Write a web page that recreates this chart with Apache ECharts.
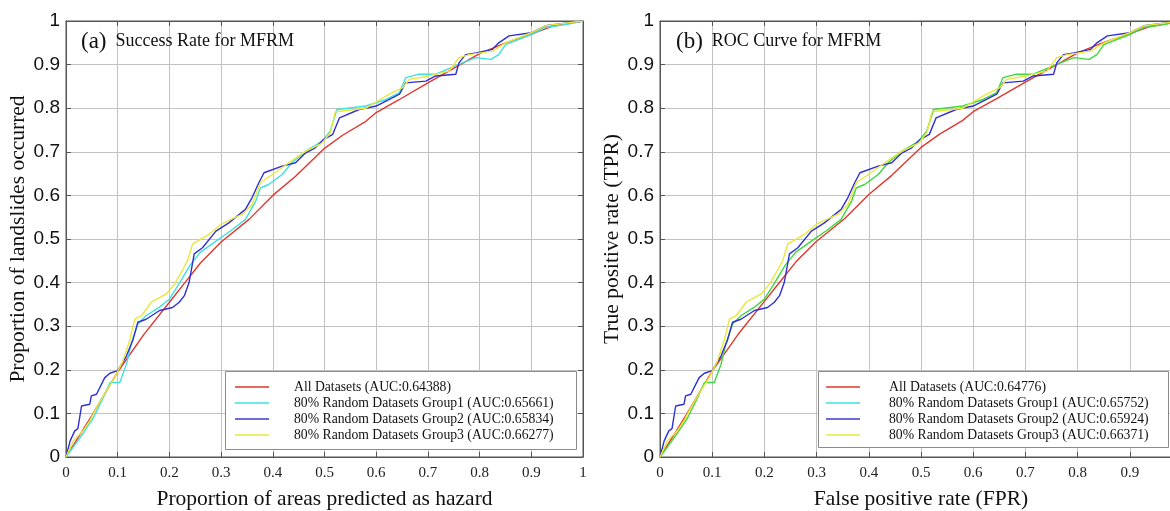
<!DOCTYPE html>
<html><head><meta charset="utf-8">
<script src="https://cdn.jsdelivr.net/npm/echarts@6/dist/echarts.min.js"></script>
<style>html,body{margin:0;padding:0;background:#fff}#c{width:1170px;height:511px}</style>
</head><body><div id="c"></div>
<script>
// ---------- data ----------
const successNames = ['All Datasets (AUC:0.64388)', '80% Random Datasets Group1 (AUC:0.65661)', '80% Random Datasets Group2 (AUC:0.65834)', '80% Random Datasets Group3 (AUC:0.66277)'];
const rocNames = ['All Datasets (AUC:0.64776)', '80% Random Datasets Group1 (AUC:0.65752)', '80% Random Datasets Group2 (AUC:0.65924)', '80% Random Datasets Group3 (AUC:0.66371)'];

const successAll = [[0,0],[0.02,0.038],[0.05,0.095],[0.1,0.195],[0.15,0.28],[0.2,0.355],[0.23,0.4],[0.26,0.445],[0.3,0.493],[0.354,0.545],[0.4,0.6],[0.444,0.644],[0.5,0.708],[0.535,0.738],[0.58,0.77],[0.6,0.79],[0.645,0.82],[0.7,0.858],[0.754,0.894],[0.8,0.925],[0.85,0.95],[0.9,0.97],[0.94,0.988],[1,1]];
const successG1 = [[0,0],[0.027,0.044],[0.053,0.09],[0.072,0.136],[0.085,0.171],[0.104,0.171],[0.117,0.213],[0.126,0.259],[0.139,0.305],[0.155,0.324],[0.18,0.343],[0.2,0.362],[0.22,0.4],[0.24,0.44],[0.26,0.47],[0.29,0.495],[0.32,0.52],[0.347,0.545],[0.367,0.587],[0.376,0.617],[0.392,0.625],[0.418,0.648],[0.437,0.675],[0.463,0.701],[0.495,0.724],[0.511,0.747],[0.524,0.797],[0.58,0.805],[0.619,0.82],[0.645,0.836],[0.657,0.87],[0.683,0.878],[0.715,0.878],[0.767,0.904],[0.793,0.916],[0.822,0.912],[0.837,0.923],[0.85,0.946],[0.9,0.969],[0.927,0.985],[0.966,0.992],[1,1]];
const successG2 = [[0,0],[0.008,0.037],[0.017,0.06],[0.023,0.065],[0.03,0.117],[0.046,0.121],[0.049,0.14],[0.059,0.144],[0.075,0.182],[0.085,0.192],[0.1,0.198],[0.117,0.232],[0.129,0.267],[0.139,0.309],[0.155,0.316],[0.181,0.336],[0.206,0.343],[0.219,0.355],[0.229,0.37],[0.238,0.4],[0.248,0.466],[0.264,0.48],[0.29,0.518],[0.315,0.537],[0.347,0.568],[0.36,0.595],[0.373,0.629],[0.383,0.652],[0.418,0.667],[0.444,0.675],[0.463,0.697],[0.482,0.709],[0.498,0.728],[0.516,0.74],[0.529,0.778],[0.567,0.797],[0.6,0.805],[0.645,0.832],[0.657,0.858],[0.696,0.862],[0.715,0.874],[0.754,0.878],[0.76,0.904],[0.773,0.923],[0.793,0.927],[0.825,0.935],[0.837,0.95],[0.857,0.966],[0.9,0.973],[0.927,0.989],[0.966,0.995],[1,1]];
const successG3 = [[0,0],[0.014,0.037],[0.033,0.06],[0.046,0.083],[0.059,0.113],[0.078,0.152],[0.094,0.182],[0.11,0.22],[0.123,0.267],[0.133,0.316],[0.146,0.324],[0.165,0.355],[0.194,0.374],[0.21,0.397],[0.226,0.43],[0.235,0.45],[0.245,0.489],[0.277,0.511],[0.3,0.534],[0.341,0.557],[0.36,0.579],[0.376,0.629],[0.399,0.648],[0.431,0.675],[0.463,0.701],[0.495,0.72],[0.511,0.743],[0.521,0.792],[0.58,0.8],[0.619,0.828],[0.651,0.847],[0.664,0.866],[0.702,0.874],[0.741,0.885],[0.76,0.916],[0.78,0.923],[0.825,0.931],[0.85,0.95],[0.9,0.973],[0.927,0.989],[1,1]];

const rocAll = [[0,0],[0.02,0.038],[0.05,0.096],[0.1,0.197],[0.15,0.282],[0.2,0.357],[0.23,0.402],[0.26,0.447],[0.3,0.495],[0.354,0.547],[0.4,0.602],[0.444,0.646],[0.5,0.71],[0.535,0.74],[0.58,0.772],[0.6,0.792],[0.645,0.822],[0.7,0.86],[0.754,0.896],[0.8,0.927],[0.85,0.951],[0.9,0.971],[0.94,0.988],[1,1]];
const rocG1 = [[0,0],[0.027,0.044],[0.053,0.09],[0.072,0.136],[0.085,0.171],[0.104,0.171],[0.117,0.213],[0.126,0.259],[0.139,0.305],[0.155,0.324],[0.18,0.343],[0.2,0.362],[0.22,0.4],[0.24,0.44],[0.26,0.47],[0.29,0.495],[0.32,0.52],[0.347,0.545],[0.367,0.587],[0.376,0.617],[0.392,0.625],[0.418,0.648],[0.437,0.675],[0.463,0.701],[0.495,0.724],[0.511,0.747],[0.524,0.797],[0.58,0.805],[0.619,0.82],[0.645,0.836],[0.657,0.87],[0.683,0.878],[0.715,0.878],[0.767,0.904],[0.793,0.916],[0.822,0.912],[0.837,0.923],[0.85,0.946],[0.9,0.969],[0.927,0.985],[0.966,0.992],[1,1]];
const rocG2 = [[0,0],[0.008,0.037],[0.017,0.06],[0.023,0.065],[0.03,0.117],[0.046,0.121],[0.049,0.14],[0.059,0.144],[0.075,0.182],[0.085,0.192],[0.1,0.198],[0.117,0.232],[0.129,0.267],[0.139,0.309],[0.155,0.316],[0.181,0.336],[0.206,0.343],[0.219,0.355],[0.229,0.37],[0.238,0.4],[0.248,0.466],[0.264,0.48],[0.29,0.518],[0.315,0.537],[0.347,0.568],[0.36,0.595],[0.373,0.629],[0.383,0.652],[0.418,0.667],[0.444,0.675],[0.463,0.697],[0.482,0.709],[0.498,0.728],[0.516,0.74],[0.529,0.778],[0.567,0.797],[0.6,0.805],[0.645,0.832],[0.657,0.858],[0.696,0.862],[0.715,0.874],[0.754,0.878],[0.76,0.904],[0.773,0.923],[0.793,0.927],[0.825,0.935],[0.837,0.95],[0.857,0.966],[0.9,0.973],[0.927,0.989],[0.966,0.995],[1,1]];
const rocG3 = [[0,0],[0.014,0.037],[0.033,0.06],[0.046,0.083],[0.059,0.113],[0.078,0.152],[0.094,0.182],[0.11,0.22],[0.123,0.267],[0.133,0.316],[0.146,0.324],[0.165,0.355],[0.194,0.374],[0.21,0.397],[0.226,0.43],[0.235,0.45],[0.245,0.489],[0.277,0.511],[0.3,0.534],[0.341,0.557],[0.36,0.579],[0.376,0.629],[0.399,0.648],[0.431,0.675],[0.463,0.701],[0.495,0.72],[0.511,0.743],[0.521,0.792],[0.58,0.8],[0.619,0.828],[0.651,0.847],[0.664,0.866],[0.702,0.874],[0.741,0.885],[0.76,0.916],[0.78,0.923],[0.825,0.931],[0.85,0.95],[0.9,0.973],[0.927,0.989],[1,1]];

// ---------- style ----------
const serif = '"Liberation Serif","Times New Roman",serif';
const sans = '"Liberation Sans",Arial,sans-serif';
const successColors = ['#e2372c', '#3fe0e0', '#2f2fd6', '#e8e83c'];
const rocColors = ['#e2372c', '#3fd83f', '#2f2fd6', '#e8e83c'];
const legendIconColors = ['#e2372c', '#3fe0e0', '#3a3ad0', '#e8e83c'];
const frame = '#555';
const gridLine = '#c2c2c2';

const grids = [
  {left: 66, top: 21, width: 517, height: 436},
  {left: 660, top: 21, width: 522, height: 436}
];
const xNames = ['Proportion of areas predicted as hazard', 'False positive rate (FPR)'];
const yNames = ['Proportion of landslides occurred', 'True positive rate (TPR)'];

const xAxis = [], yAxis = [];
grids.forEach((g, i) => {
  xAxis.push({
    gridIndex: i, type: 'value', min: 0, max: 1, interval: 0.1, position: 'bottom',
    axisLine: {show: true, onZero: false, lineStyle: {color: frame}},
    axisTick: {show: true, inside: true, length: 5, lineStyle: {color: frame}},
    axisLabel: {fontFamily: serif, fontSize: 15, color: '#222', margin: 9},
    splitLine: {show: true, lineStyle: {color: gridLine, width: 1}},
    name: xNames[i], nameLocation: 'middle', nameGap: 31,
    nameTextStyle: {fontFamily: serif, fontSize: 21.5, color: '#111'}
  });
  xAxis.push({
    gridIndex: i, type: 'value', min: 0, max: 1, interval: 0.1, position: 'top',
    axisLine: {show: true, onZero: false, lineStyle: {color: frame}},
    axisTick: {show: true, inside: true, length: 5, lineStyle: {color: frame}},
    axisLabel: {show: false}, splitLine: {show: false}
  });
  yAxis.push({
    gridIndex: i, type: 'value', min: 0, max: 1, interval: 0.1, position: 'left',
    axisLine: {show: true, onZero: false, lineStyle: {color: frame}},
    axisTick: {show: true, inside: true, length: 5, lineStyle: {color: frame}},
    axisLabel: {fontFamily: sans, fontSize: 19, color: '#111', margin: 6},
    splitLine: {show: true, lineStyle: {color: gridLine, width: 1}},
    name: yNames[i], nameLocation: 'middle', nameGap: 34,
    nameTextStyle: {fontFamily: serif, fontSize: 21.5, color: '#111'}
  });
  yAxis.push({
    gridIndex: i, type: 'value', min: 0, max: 1, interval: 0.1, position: 'right',
    axisLine: {show: true, onZero: false, lineStyle: {color: frame}},
    axisTick: {show: true, inside: true, length: 5, lineStyle: {color: frame}},
    axisLabel: {show: false}, splitLine: {show: false}
  });
});

const successData = [successAll, successG1, successG2, successG3];
const rocData = [rocAll, rocG1, rocG2, rocG3];
const series = [];
successData.forEach((d, k) => series.push({
  name: successNames[k], type: 'line', xAxisIndex: 0, yAxisIndex: 0, data: d,
  showSymbol: false, symbol: 'none', color: successColors[k],
  lineStyle: {width: 1.4, color: successColors[k]}, z: 2
}));
rocData.forEach((d, k) => series.push({
  name: rocNames[k], type: 'line', xAxisIndex: 2, yAxisIndex: 2, data: d,
  showSymbol: false, symbol: 'none', color: rocColors[k],
  lineStyle: {width: 1.4, color: rocColors[k]}, z: 2
}));

function makeLegend(names, left, top, pad) {
  return {
    left: left, top: top, orient: 'vertical', padding: 0, itemGap: 0,
    itemWidth: 34, itemHeight: 1.5, icon: 'rect', selectedMode: false, z: 6,
    data: names.map((n, k) => ({name: n, itemStyle: {color: legendIconColors[k]}})),
    textStyle: {fontFamily: serif, fontSize: 13.7, color: '#111', lineHeight: 16, padding: [0, 0, 0, pad]}
  };
}

const titleRich = {
  a: {fontFamily: serif, fontSize: 23, fontWeight: 'normal', color: '#111'},
  b: {fontFamily: serif, fontSize: 18, fontWeight: 'normal', color: '#111', padding: [0, 0, 0, 9]}
};

const option = {
  animation: false,
  backgroundColor: '#fff',
  grid: grids.map(g => Object.assign({show: true, borderColor: frame, borderWidth: 1, backgroundColor: 'transparent', outerBoundsMode: 'none', containLabel: false}, g)),
  title: [
    {left: 81, top: 30, padding: 0, text: '{a|(a)}{b|Success Rate for MFRM}',
     textStyle: {fontWeight: 'normal', rich: titleRich}},
    {left: 676, top: 30, padding: 0, text: '{a|(b)}{b|ROC Curve for MFRM}',
     textStyle: {fontWeight: 'normal', rich: titleRich}}
  ],
  graphic: [
    {type: 'rect', z: 5, shape: {x: 225.5, y: 371.5, width: 351, height: 78}, style: {fill: '#fff', stroke: '#8a8a8a', lineWidth: 1}},
    {type: 'rect', z: 5, shape: {x: 818.5, y: 371.5, width: 350, height: 76}, style: {fill: '#fff', stroke: '#8a8a8a', lineWidth: 1}}
  ],
  legend: [makeLegend(successNames, 235, 379, 20), makeLegend(rocNames, 826, 379, 24)],
  xAxis: xAxis,
  yAxis: yAxis,
  series: series
};

const chart = echarts.init(document.getElementById('c'), null, {renderer: 'canvas'});
chart.setOption(option);
</script></body></html>
